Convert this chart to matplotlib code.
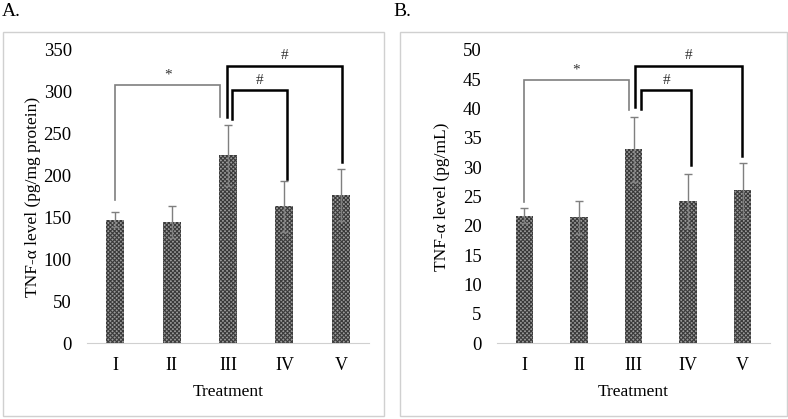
import numpy as np
import matplotlib.pyplot as plt
from matplotlib.patches import Rectangle

plt.rcParams['font.family'] = ['Liberation Serif', 'DejaVu Serif']
plt.rcParams['hatch.linewidth'] = 0.8

# data
groups = ['I', 'II', 'III', 'IV', 'V']
tissue = [147, 145, 224.5, 163.5, 177]          # pg/mg protein
tissue_err = [9, 19, 36.5, 30.5, 31]
serum = [21.7, 21.45, 33.05, 24.2, 26.1]        # pg/mL
serum_err = [1.3, 2.8, 5.5, 4.6, 4.7]

# brackets: x0, x1, y0, ytop, y1, label, colour
brackets_a = [(0, 1.86, 171, 308, 270, '*', '#7f7f7f'),
              (2.07, 3.05, 268, 302, 196, '#', 'black'),
              (1.98, 4.03, 270, 331, 216, '#', 'black')]
brackets_b = [(0, 1.91, 24.1, 44.9, 39.8, '*', '#7f7f7f'),
              (2.14, 3.06, 40.0, 43.1, 30.4, '#', 'black'),
              (2.03, 3.99, 40.3, 47.3, 31.9, '#', 'black')]

fig = plt.figure(figsize=(7.88, 4.19), dpi=100)

# panel frames
for x0, x1 in [(3, 384), (400, 787)]:
    fig.patches.append(Rectangle((x0 / 788, 3 / 419), (x1 - x0) / 788, 384 / 419,
                                 transform=fig.transFigure, fill=False,
                                 edgecolor='#d0d0d0', linewidth=1))

fig.text(2 / 788, 1 - 12 / 419, 'A.', fontsize=14, va='center', ha='left')
fig.text(393 / 788, 1 - 12 / 419, 'B.', fontsize=14, va='center', ha='left')


def draw(ax, vals, errs, ymax, step, ylabel, brackets, lab_x):
    x = np.arange(len(groups))
    ax.bar(x, vals, width=0.32, facecolor='#9a9a9a', edgecolor='#3a3a3a',
           hatch='xxxxxxxx', linewidth=0)
    ax.errorbar(x, vals, yerr=errs, fmt='none', ecolor='#7f7f7f',
                elinewidth=1, capsize=3, capthick=1)
    for x0, x1, y0, yt, y1, lab, c in brackets:
        lw = 1.2 if lab == '*' else 1.8
        ax.plot([x0, x0, x1, x1], [y0, yt, yt, y1], color=c, lw=lw,
                clip_on=False, solid_joinstyle='miter')
        ax.text((x0 + x1) / 2, yt + ymax * 0.012, lab, ha='center', va='bottom',
                fontsize=11, color='#333333')
    ax.set_xlim(-0.5, 4.5)
    ax.set_ylim(0, ymax)
    ax.set_yticks(np.arange(0, ymax + step / 2, step))
    ax.set_xticks(x)
    ax.set_xticklabels(groups)
    ax.tick_params(length=0, labelsize=13)
    ax.tick_params(axis='y', labelsize=13.5, pad=11)
    ax.tick_params(axis='x', pad=10)
    for s in ['top', 'right', 'left']:
        ax.spines[s].set_visible(False)
    ax.spines['bottom'].set_color('#d0d0d0')
    ax.set_xlabel('Treatment', fontsize=12.5, labelpad=7)
    ax.set_ylabel(ylabel, fontsize=12.5)
    ax.yaxis.set_label_coords(lab_x, 0.5)


ax_a = fig.add_axes([87 / 788, 1 - 343 / 419, 282 / 788, 293 / 419])
draw(ax_a, tissue, tissue_err, 350, 50, 'TNF-α level (pg/mg protein)', brackets_a,
     (41 - 87) / 282)

ax_b = fig.add_axes([497 / 788, 1 - 343 / 419, 273 / 788, 293 / 419])
draw(ax_b, serum, serum_err, 50, 5, 'TNF-α level (pg/mL)', brackets_b,
     (450 - 497) / 273)

fig.savefig('out.png', dpi=100)
